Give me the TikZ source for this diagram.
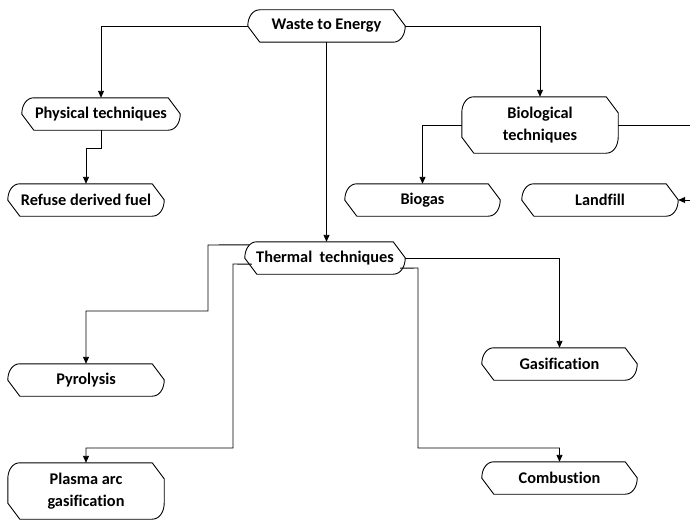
\documentclass[tikz,border=0pt]{standalone}
\usepackage{fontspec}
\setmainfont{Carlito}[Ligatures={NoCommon}]
\usetikzlibrary{calc,arrows.meta}
\newcommand\outl[2]{%
\draw[shp] ($(#1.north west)+(12pt,0)$) -- ($(#1.north east)+(-12pt,0)$) -- ($(#1.north east)+(0,-#2)$) -- ($(#1.south east)+(0,#2)$) to[out=-90,in=0] ($(#1.south east)+(-12pt,0)$) -- ($(#1.south west)+(12pt,0)$) -- ($(#1.south west)+(0,#2)$) -- ($(#1.north west)+(0,-#2)$) to[out=90,in=180] ($(#1.north west)+(12pt,0)$) -- cycle;}
\begin{document}
\begin{tikzpicture}[x=1pt,y=-1pt,
  box/.style={inner sep=0pt, align=center, minimum height=32pt,
    font=\bfseries\fontsize{16.3}{22}\selectfont},
  shp/.style={draw=black, line width=0.9pt, line join=round},
  conn/.style={draw=black, line width=0.9pt},
  arr/.style={conn, -{Triangle[length=7pt,width=6pt]}}]
\useasboundingbox (0,0) rectangle (690,519);
\node[box, minimum width=157pt] (waste) at (326.5,26) {Waste to Energy};
\node[box, minimum width=158pt] (phys) at (101,114) {Physical techniques};
\node[box, minimum width=156pt] (refuse) at (86,200) {Refuse derived fuel};
\node[box, minimum width=156pt, minimum height=56pt] (bio) at (540,125) {Biological\\techniques};
\node[box, minimum width=155pt] (biogas) at (422.5,200) {Biogas};
\node[box, minimum width=156pt] (landfill) at (600,200) {Landfill};
\node[box, minimum width=160pt] (thermal) at (325,258) {Thermal\hspace{0.45em}techniques};
\node[box, minimum width=156pt] (pyro) at (86,380) {Pyrolysis};
\node[box, minimum width=155pt] (gasif) at (559.5,364) {Gasification};
\node[box, minimum width=156pt, minimum height=56pt] (plasma) at (86,491) {Plasma arc\\gasification};
\node[box, minimum width=155pt] (comb) at (559.5,478) {Combustion};
\outl{waste}{16pt}
\outl{phys}{16pt}
\outl{refuse}{16pt}
\outl{bio}{16pt}
\outl{biogas}{16pt}
\outl{landfill}{16pt}
\outl{thermal}{16pt}
\outl{pyro}{16pt}
\outl{gasif}{16pt}
\outl{plasma}{16pt}
\outl{comb}{16pt}
% connectors
\draw[arr] (waste.west) -| (phys.north);
\draw[arr] (waste.east) -| (bio.north);
\draw[arr] (waste.south) -- (waste.south |- thermal.north);
\draw[arr] (phys.south) -- ++(0,18) -| (refuse.north);
\draw[arr] (bio.west) -| (biogas.north);
\coordinate (rt1) at (696,125);
\coordinate (rt2) at (696,200);
\draw[arr] (bio.east) -- (rt1) -- (rt2) -- (landfill.east);
\coordinate (t1) at ($(thermal.north west)+(4pt,-3pt)$);
\coordinate (t2) at ($(thermal.south west)+(7pt,10pt)$);
\coordinate (t3) at ($(thermal.south east)+(-5pt,6pt)$);
\draw[arr] (t1) -- (208,245) -- (208,311) -| (pyro.north);
\draw[arr] (t2) -- (233,264) -- (233,448) -| (plasma.north);
\draw[arr] (thermal.east) -| (gasif.north);
\draw[arr] (t3) -- (418,268) -- (418,448) -| (comb.north);
\end{tikzpicture}
\end{document}
